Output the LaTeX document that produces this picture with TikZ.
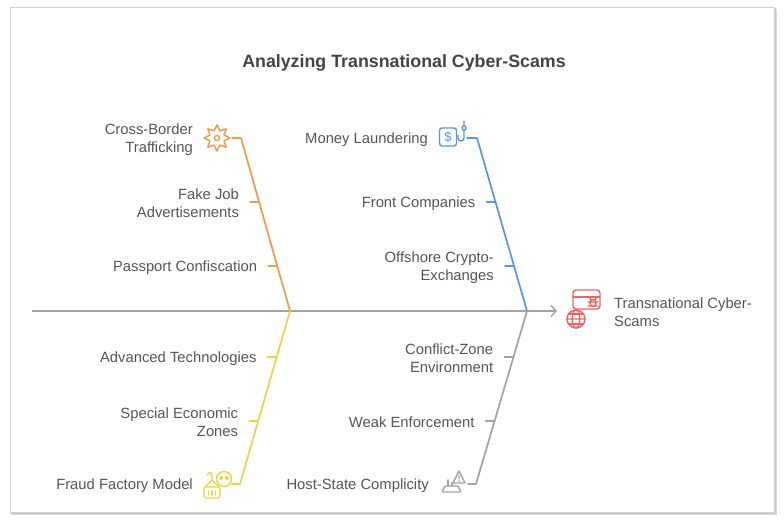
\documentclass[tikz,border=0pt]{standalone}
\usepackage{fontspec}
\setmainfont{Liberation Sans}
\usepackage{xcolor}
\usetikzlibrary{arrows.meta, calc, shapes.geometric}
\definecolor{ink}{HTML}{555555}
\definecolor{titleink}{HTML}{444444}
\definecolor{fishorange}{HTML}{F2994A}
\definecolor{fishblue}{HTML}{5B92F0}
\definecolor{fishyellow}{HTML}{EBD43F}
\definecolor{fishgray}{HTML}{A3A3A3}
\definecolor{fishred}{HTML}{EF6461}
\tikzset{
    >={Straight Barb[length=5pt, width=11pt]},
    frame/.style={draw=gray!35, fill=white, line width=0.6pt},
    heading/.style={font=\fontsize{17.8}{20}\selectfont\bfseries, text=titleink},
    cause/.style={font=\fontsize{14.8}{18}\selectfont, text=ink, align=right, anchor=east, inner sep=0pt, yshift=-1.5pt},
    effect/.style={cause, align=left, anchor=west},
    bone/.style={line width=1.7pt, line cap=round, line join=round},
    spine/.style={draw=fishgray, line width=1.5pt},
    icon/.style={line width=1.4pt, line cap=round, line join=round},
}

\begin{document}
\begin{tikzpicture}[x=1pt, y=-1pt]
        \useasboundingbox (0,0) rectangle (784,526);
        \fill[gray!30] (12,9) rectangle (777,515);
        \fill[gray!45] (11,8) rectangle (775.5,513.5);
        \draw[frame] (10,7) rectangle (774,512);
        \node[heading] (title) at (404,62.5) {Analyzing Transnational Cyber-Scams};
        \coordinate (tail) at (32,311);
        \coordinate (head) at (557,311);
        \coordinate (J1) at (290,311);
        \coordinate (J2) at (527,311);
        \coordinate (oT) at (241,138);
        \coordinate (bT) at (477,138);
        \coordinate (yB) at (240,484);
        \coordinate (gB) at (476,484);
        \draw[spine, ->] (tail) -- (head);
        % icons
        \node[star, star points=8, star point ratio=1.7, minimum size=26pt, inner sep=0pt, outer sep=1pt,
            draw=fishorange, icon] (traf) at (217,138) {};
        \draw[icon, fishorange] (traf.center) circle (2.6pt);
        \node[draw=fishblue, icon, rounded corners=2.5pt, minimum width=17pt, minimum height=18pt, inner sep=0pt,
            text=fishblue, font=\fontsize{13}{13}\selectfont] (launder) at (448,137) {\$};
        \draw[icon, fishblue] (464,121) -- (464,138) arc[start angle=0, end angle=-180, radius=3pt] -- (458,135);
        \draw[icon, fishblue, fill=white] (464,128) circle (2pt);
        \coordinate (hook) at (467,138);
        \draw[icon, fishred, rounded corners=3pt] (573,290) rectangle (600,309);
        \draw[icon, fishred] (573,297) -- (600,297);
        \draw[icon, fishred] (593,303) ellipse (3pt and 3.5pt) (588,302) -- (598,302) (588,306) -- (598,306)
            (591,299.5) -- (589,297) (595,299.5) -- (597,297);
        \draw[icon, fishred, fill=white] (576,319) circle (9pt);
        \draw[icon, fishred] (576,319) ellipse (3.8pt and 9pt) (567,319) -- (585,319);
        \draw[icon, fishred] (568.5,314) -- (583.5,314) (568.5,324) -- (583.5,324);
        \node[circle, draw=fishyellow, icon, minimum size=15pt, inner sep=0pt] (skull) at (224,479) {};
        \fill[fishyellow] (221.2,478) circle (2pt) (226.8,478) circle (2pt);
        \draw[icon, fishyellow, rounded corners=1.5pt] (204,487) rectangle (220,498);
        \draw[icon, fishyellow] (208.5,491) -- (208.5,495) (212,491) -- (212,495) (215.5,491) -- (215.5,495);
        \draw[icon, fishyellow] (205,487) -- (212,480) -- (219,487) (212,480) -- (212,475)
            arc[start angle=0, end angle=180, radius=2.2pt];
        \coordinate (factory) at (232,484);
        \draw[icon, fishgray] (459,471) -- (465,483) -- (453,483) -- cycle (459,475.5) -- (459,479);
        \fill[fishgray] (459,481) circle (0.8pt);
        \draw[icon, fishgray, rounded corners=1pt] (442,492) -- (461,492) -- (458,486) -- (445,486) -- cycle;
        \draw[icon, fishgray] (448,486) -- (448,480) (452,486) -- (452,483);
        \coordinate (complicity) at (468,484);
        % bones
        \draw[bone, fishorange] (traf) -- (oT) -- (J1);
        \draw[bone, fishblue] (hook) -- (bT) -- (J2);
        \draw[bone, fishyellow] (J1) -- (yB) -- (factory);
        \draw[bone, fishgray] (J2) -- (gB) -- (complicity);
        \foreach \from/\to/\p/\col/\nm/\txt in {
            oT/J1/0.37/fishorange/fake/{Fake Job\\Advertisements},
            oT/J1/0.74/fishorange/pass/{Passport Confiscation},
            bT/J2/0.37/fishblue/front/{Front Companies},
            bT/J2/0.74/fishblue/off/{Offshore Crypto-\\Exchanges},
            J1/yB/0.267/fishyellow/adv/{Advanced Technologies},
            J1/yB/0.634/fishyellow/sez/{Special Economic\\Zones},
            J2/gB/0.267/fishgray/conf/{Conflict-Zone\\Environment},
            J2/gB/0.634/fishgray/weak/{Weak Enforcement}} {
            \coordinate (\nm-b) at ($(\from)!\p!(\to)$);
            \coordinate (\nm-t) at ($(\nm-b)+(-9,0)$);
            \draw[bone, \col] (\nm-b) -- (\nm-t);
            \node[cause] (\nm) at ($(\nm-t)+(-11,0)$) {\txt};
        };
        \node[cause] (trafText) at (193,138) {Cross-Border\\Trafficking};
        \node[cause] (launderText) at (428,138) {Money Laundering};
        \node[cause] (factoryText) at (193,484) {Fraud Factory Model};
        \node[cause] (complicityText) at (429,484) {Host-State Complicity};
        \node[effect] (scams) at (614,311) {Transnational Cyber-\\Scams};
\end{tikzpicture}
\end{document}
